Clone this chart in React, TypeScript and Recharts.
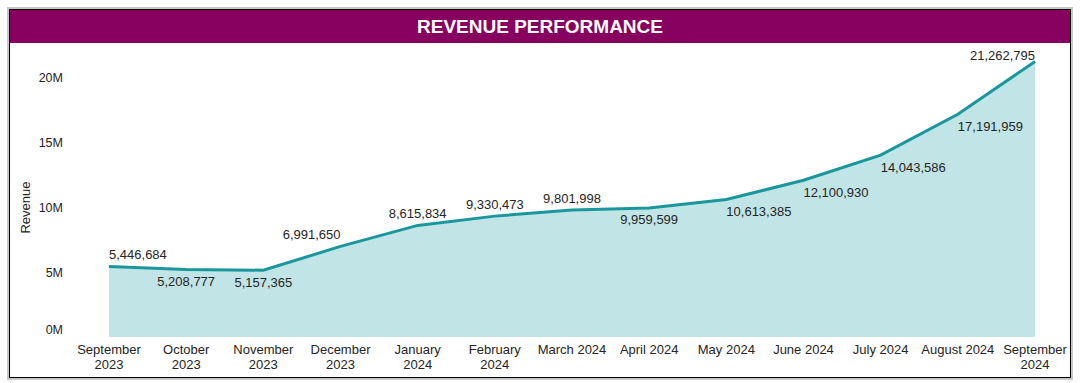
import { AreaChart, Area, XAxis, YAxis, LabelList } from 'recharts';

const months = [
  'September 2023', 'October 2023', 'November 2023', 'December 2023',
  'January 2024', 'February 2024', 'March 2024', 'April 2024',
  'May 2024', 'June 2024', 'July 2024', 'August 2024', 'September 2024',
];
const revenue = [
  5446684, 5208777, 5157365, 6991650, 8615834, 9330473, 9801998,
  9959599, 10613385, 12100930, 14043586, 17191959, 21262795,
];
const yTicks = [0, 5000000, 10000000, 15000000, 20000000];

// where Power BI put each data label relative to its point
const labelSpots = [
  'above-start', 'below', 'below', 'above-end', 'above', 'above', 'above',
  'below', 'below-start', 'below-start', 'below-start', 'below-start', 'above-end',
];

const data = months.map((m, i) => ({ month: m, revenue: revenue[i] }));

const FONT = 'Arial, "Liberation Sans", sans-serif';
const TEXT = '#252423';

const fmt = (v: number) => v.toLocaleString('en-US');

function MonthTick(props: any) {
  const { x, y, payload } = props;
  const label: string = payload.value;
  const parts = label.length > 11 ? label.split(' ') : [label];
  return (
    <text x={x} y={y} textAnchor="middle" fill={TEXT} fontSize={13} fontFamily={FONT}>
      {parts.map((p, i) => (
        <tspan key={i} x={x} dy={i === 0 ? 9 : 15}>{p}</tspan>
      ))}
    </text>
  );
}

function RevenueTick(props: any) {
  const { x, y, payload } = props;
  // the 0M label sits a little above the baseline, as in the original
  const shift = payload.value === 0 ? -7 : 0;
  return (
    <text x={x} y={y + shift} dy="0.355em" textAnchor="end" fill={TEXT} fontSize={12.5} fontFamily={FONT}>
      {`${payload.value / 1000000}M`}
    </text>
  );
}

function ValueLabel(props: any) {
  const { x, y, value, index } = props;
  const spot = labelSpots[index] || 'above';
  const above = spot.startsWith('above');
  let anchor: 'start' | 'middle' | 'end' = 'middle';
  if (spot.endsWith('start')) anchor = 'start';
  if (spot.endsWith('end')) anchor = 'end';
  const dy = index === revenue.length - 1 ? -6 : above ? -12 : 12;
  return (
    <text
      x={x}
      y={y + dy}
      textAnchor={anchor}
      dominantBaseline="central"
      fill={TEXT}
      fontSize={13}
      fontFamily={FONT}
    >
      {fmt(value)}
    </text>
  );
}

export default function App() {
  return (
    <div style={{ position: 'absolute', left: 0, top: 0, width: 1082, height: 383, background: '#fff' }}>
      <div
        style={{
          position: 'absolute',
          left: 9,
          top: 9,
          width: 1060,
          height: 367,
          border: '1px solid #000',
          boxShadow: '0 0 0 2px #c8c8c8',
          background: '#fff',
        }}
      >
        <div
          style={{
            height: 33,
            background: '#870060',
            color: '#fff',
            fontFamily: FONT,
            fontWeight: 'bold',
            fontSize: 19,
            lineHeight: '33px',
            textAlign: 'center',
          }}
        >
          REVENUE PERFORMANCE
        </div>
        <AreaChart
          width={1060}
          height={334}
          data={data}
          margin={{ top: 9, right: 35, bottom: 0, left: 0 }}
        >
          <XAxis
            dataKey="month"
            interval={0}
            tick={<MonthTick />}
            tickLine={false}
            axisLine={false}
            height={40}
          />
          <YAxis
            width={99}
            domain={[0, 22000000]}
            ticks={yTicks}
            tick={<RevenueTick />}
            tickLine={false}
            axisLine={false}
            tickSize={0}
            tickMargin={46}
            label={{
              value: 'Revenue',
              angle: -90,
              position: 'insideLeft',
              offset: 15,
              dy: 13,
              style: { fill: TEXT, fontSize: 13, fontFamily: FONT, textAnchor: 'middle' },
            }}
          />
          <Area
            type="linear"
            dataKey="revenue"
            stroke="#1a979c"
            strokeWidth={3}
            fill="#c1e4e6"
            fillOpacity={1}
            isAnimationActive={false}
          >
            <LabelList dataKey="revenue" content={<ValueLabel />} />
          </Area>
        </AreaChart>
      </div>
    </div>
  );
}
